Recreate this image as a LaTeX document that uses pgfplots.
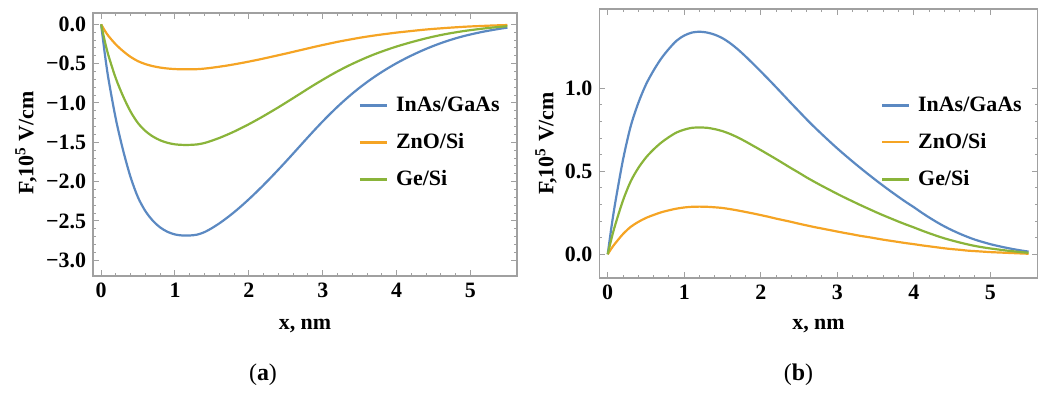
\documentclass[border=0pt]{standalone}
\usepackage{fontspec}
\setmainfont{Liberation Serif}[BoldFont={Liberation Serif Bold}]
\usepackage{pgfplots}
\pgfplotsset{compat=1.18}
\usepackage{pgfplotstable}

\definecolor{mBlue}{HTML}{5B89C2}
\definecolor{mOrange}{HTML}{F5A424}
\definecolor{mGreen}{HTML}{8AB43A}
\definecolor{frameGray}{HTML}{A0A0A0}

\pgfplotstableread{
x blue orange green
0 0 0 0
0.05 -0.376 -0.080 -0.215
0.1 -0.698 -0.149 -0.399
0.2 -1.208 -0.257 -0.690
0.3 -1.611 -0.343 -0.920
0.4 -1.947 -0.415 -1.112
0.5 -2.202 -0.469 -1.257
0.6 -2.376 -0.506 -1.357
0.7 -2.497 -0.532 -1.426
0.8 -2.583 -0.550 -1.475
0.9 -2.639 -0.562 -1.507
1.0 -2.672 -0.569 -1.526
1.1 -2.685 -0.572 -1.533
1.2 -2.685 -0.572 -1.533
1.3 -2.674 -0.570 -1.527
1.4 -2.642 -0.563 -1.509
1.5 -2.591 -0.552 -1.479
1.6 -2.531 -0.539 -1.445
1.7 -2.463 -0.525 -1.406
1.8 -2.389 -0.509 -1.364
1.9 -2.309 -0.492 -1.318
2.0 -2.224 -0.474 -1.270
2.1 -2.135 -0.455 -1.219
2.2 -2.042 -0.435 -1.166
2.3 -1.946 -0.414 -1.111
2.4 -1.847 -0.393 -1.055
2.5 -1.746 -0.372 -0.997
2.6 -1.643 -0.350 -0.938
2.7 -1.539 -0.328 -0.879
2.8 -1.435 -0.306 -0.819
2.9 -1.333 -0.284 -0.761
3.0 -1.234 -0.263 -0.705
3.1 -1.139 -0.243 -0.650
3.2 -1.048 -0.223 -0.598
3.3 -0.962 -0.205 -0.549
3.4 -0.881 -0.188 -0.503
3.5 -0.805 -0.171 -0.460
3.6 -0.734 -0.156 -0.419
3.7 -0.668 -0.142 -0.381
3.8 -0.606 -0.129 -0.346
3.9 -0.548 -0.117 -0.313
4.0 -0.494 -0.105 -0.282
4.1 -0.444 -0.095 -0.254
4.2 -0.397 -0.085 -0.227
4.3 -0.353 -0.075 -0.202
4.4 -0.312 -0.066 -0.178
4.5 -0.274 -0.058 -0.156
4.6 -0.239 -0.051 -0.136
4.7 -0.207 -0.044 -0.118
4.8 -0.178 -0.038 -0.102
4.9 -0.152 -0.032 -0.087
5.0 -0.129 -0.027 -0.074
5.1 -0.108 -0.023 -0.062
5.2 -0.089 -0.019 -0.051
5.3 -0.072 -0.015 -0.041
5.4 -0.056 -0.012 -0.032
5.5 -0.042 -0.009 -0.024
}\dataA

\pgfplotstableread{
x blue orange green
0 0 0 0
0.05 0.168 0.036 0.096
0.1 0.315 0.067 0.180
0.2 0.570 0.122 0.325
0.3 0.771 0.165 0.439
0.4 0.912 0.195 0.520
0.5 1.023 0.219 0.583
0.6 1.108 0.237 0.632
0.7 1.180 0.253 0.673
0.8 1.238 0.265 0.706
0.9 1.287 0.275 0.734
1.0 1.318 0.282 0.751
1.1 1.336 0.286 0.762
1.2 1.341 0.287 0.764
1.3 1.336 0.286 0.762
1.4 1.323 0.283 0.754
1.5 1.302 0.279 0.742
1.6 1.272 0.272 0.725
1.7 1.235 0.264 0.704
1.8 1.193 0.255 0.680
1.9 1.148 0.246 0.654
2.0 1.102 0.236 0.628
2.1 1.055 0.226 0.601
2.2 1.007 0.215 0.574
2.3 0.958 0.205 0.546
2.4 0.909 0.195 0.518
2.5 0.861 0.184 0.491
2.6 0.813 0.174 0.463
2.7 0.767 0.164 0.437
2.8 0.723 0.155 0.412
2.9 0.680 0.146 0.388
3.0 0.638 0.137 0.364
3.1 0.598 0.128 0.341
3.2 0.559 0.120 0.319
3.3 0.521 0.111 0.297
3.4 0.484 0.104 0.276
3.5 0.448 0.096 0.255
3.6 0.413 0.088 0.235
3.7 0.379 0.081 0.216
3.8 0.346 0.074 0.197
3.9 0.314 0.067 0.179
4.0 0.284 0.061 0.162
4.1 0.252 0.054 0.144
4.2 0.222 0.048 0.127
4.3 0.194 0.042 0.111
4.4 0.168 0.036 0.096
4.5 0.145 0.031 0.083
4.6 0.124 0.027 0.071
4.7 0.105 0.022 0.060
4.8 0.088 0.019 0.050
4.9 0.074 0.016 0.042
5.0 0.061 0.013 0.035
5.1 0.050 0.011 0.029
5.2 0.040 0.009 0.023
5.3 0.031 0.007 0.018
5.4 0.023 0.005 0.013
5.5 0.016 0.003 0.009
}\dataB

\pgfplotsset{
  mmastyle/.style={
    scale only axis,
    axis line style={frameGray, line width=0.6bp},
    every tick/.style={frameGray, line width=0.5bp},
    major tick length=2.8bp,
    minor tick length=1.5bp,
    tick align=inside,
    xtick pos=both, ytick pos=both,
    xticklabel pos=left, yticklabel pos=left,
    minor x tick num=4,
    minor y tick num=4,
    xmin=-0.11, xmax=5.63,
    xtick={0,1,2,3,4,5},
    xticklabels={0,1,2,3,4,5},
    tick label style={font=\fontsize{11}{13}\selectfont\bfseries, black},
    label style={font=\fontsize{11}{13}\selectfont\bfseries, black},
    xlabel={x, nm},
    ylabel={F,10\textsuperscript{5} V/cm},
    legend cell align=left,
    legend image code/.code={\draw[#1, line width=1.1bp] (0bp,0bp) -- (13.5bp,0bp);},
    legend style={draw=none, fill=none, font=\fontsize{11}{13}\selectfont\bfseries,
      anchor=north west, row sep=5.5bp,
      nodes={inner xsep=4bp}},
    every axis plot/.append style={line width=1.1bp, smooth, tension=0.5, no markers},
  }
}

\begin{document}
\begin{tikzpicture}
\path (0bp,0bp) rectangle (521bp,195.5bp);

\begin{axis}[mmastyle,
  at={(46.5bp,57.5bp)}, anchor=south west,
  width=212bp, height=131.5bp,
  ymin=-3.2, ymax=0.144,
  ytick={-3,-2.5,-2,-1.5,-1,-0.5,0},
  yticklabels={−3.0,−2.5,−2.0,−1.5,−1.0,−0.5,0.0},
  xlabel style={at={(axis description cs:0.5,-0.192)}, anchor=center},
  ylabel style={at={(axis description cs:-0.158,0.506)}, anchor=center},
  legend style={at={(0.612,0.713)}},
]
\addplot[mBlue] table[x=x, y=blue] {\dataA};
\addlegendentry{InAs/GaAs}
\addplot[mOrange] table[x=x, y=orange] {\dataA};
\addlegendentry{ZnO/Si}
\addplot[mGreen] table[x=x, y=green] {\dataA};
\addlegendentry{Ge/Si}
\end{axis}

\begin{axis}[mmastyle,
  at={(299.65bp,56.5bp)}, anchor=south west,
  width=219.2bp, height=134.5bp,
  xmax=5.62,
  ymin=-0.143, ymax=1.478,
  ytick={0,0.5,1},
  yticklabels={0.0,0.5,1.0},
  xlabel style={at={(axis description cs:0.5,-0.18)}, anchor=center},
  ylabel style={at={(axis description cs:-0.1216,0.5)}, anchor=center},
  legend style={at={(0.628,0.705)}},
]
\addplot[mBlue] table[x=x, y=blue] {\dataB};
\addlegendentry{InAs/GaAs}
\addplot[mOrange] table[x=x, y=orange] {\dataB};
\addlegendentry{ZnO/Si}
\addplot[mGreen] table[x=x, y=green] {\dataB};
\addlegendentry{Ge/Si}
\end{axis}

\node[font=\fontsize{12}{14}\selectfont] at (131.5bp,8bp) {(\textbf{a})};
\node[font=\fontsize{12}{14}\selectfont] at (399.2bp,8bp) {(\textbf{b})};
\end{tikzpicture}
\end{document}
